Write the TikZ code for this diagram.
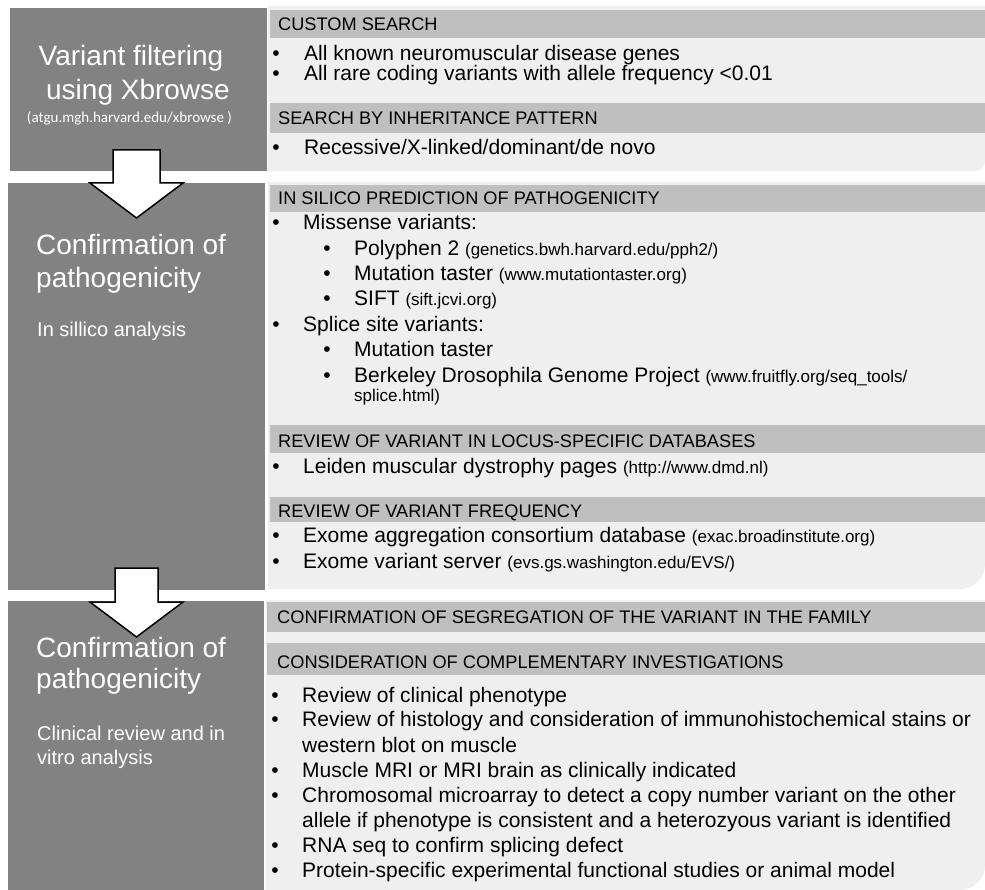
\documentclass[tikz,border=0pt]{standalone}
\usepackage{fontspec}
\setmainfont{Liberation Sans}
\newfontfamily\carlitofont{Carlito}
\definecolor{darkbox}{HTML}{828282}
\definecolor{panel}{HTML}{EFEFEF}
\definecolor{hdr}{HTML}{BFBFBF}
\newcommand\urltxt[1]{{\fontsize{17}{20}\selectfont #1}}
\begin{document}
\begin{tikzpicture}[x=1pt,y=-1pt,
 hd/.style={font=\fontsize{18.2}{21}\selectfont, anchor=base west, inner sep=0pt},
 bt/.style={font=\fontsize{21}{24}\selectfont, anchor=base west, inner sep=0pt},
 bul/.style={font=\fontsize{21}{24}\selectfont, anchor=base, inner sep=0pt},
 ttl/.style={font=\fontsize{28}{32}\selectfont, text=white, inner sep=0pt},
 subt/.style={font=\fontsize{20}{24}\selectfont, text=white, anchor=base west, inner sep=0pt},
 hdrbar/.style={fill=hdr},
 arrowshape/.style={fill=white, draw=black, line width=1.5pt, line join=miter}]
\useasboundingbox (0,0) rectangle (985,890);
\fill[white] (0,0) rectangle (985,890);
% dark boxes
\fill[darkbox] (10,8) rectangle (267,171);
\fill[darkbox] (8,183) rectangle (265,590);
\fill[darkbox] (8,601) rectangle (264,890);
% light panels
\fill[panel] (268,6) -- (985,6) -- (985,161) arc[start angle=0,end angle=90,radius=10] -- (268,171) -- cycle;
\fill[panel] (268,182) -- (985,182) -- (985,564) arc[start angle=0,end angle=90,radius=25] -- (268,589) -- cycle;
\fill[panel] (266,600) -- (985,600) -- (985,865) arc[start angle=0,end angle=90,radius=25] -- (266,890) -- cycle;
% header bars
\fill[hdrbar] (270,10) rectangle (985,38);
\fill[hdrbar] (270,103) rectangle (985,133);
\fill[hdrbar] (270,185) rectangle (985,212);
\fill[hdrbar] (270,425) rectangle (985,453);
\fill[hdrbar] (270,497) rectangle (985,522);
\fill[hdrbar] (267,602) rectangle (985,632);
\fill[hdrbar] (267,643) rectangle (985,675);
% left titles
\node[ttl, anchor=base] (t1a) at (131,66) {Variant filtering};
\node[ttl, anchor=base] (t1b) at (138,100) {using Xbrowse};
\node[font=\carlitofont\fontsize{15}{18}\selectfont, text=white, anchor=base, inner sep=0pt] (t1c) at (129.5,123) {(atgu.mgh.harvard.edu/xbrowse )};
\node[ttl, anchor=base west] (t2a) at (36,255) {Confirmation of};
\node[ttl, anchor=base west] (t2b) at (36,288) {pathogenicity};
\node[subt] (t2c) at (37,337) {In sillico analysis};
\node[ttl, anchor=base west] (t3a) at (36,657) {Confirmation of};
\node[ttl, anchor=base west] (t3b) at (36,688) {pathogenicity};
\node[subt] (t3c) at (37,740) {Clinical review and in};
\node[subt] (t3d) at (37,764) {vitro analysis};
% panel 1
\node[hd] (h1) at (278,31) {CUSTOM SEARCH};
\node[bul] (b1) at (276,61) {•};
\node[bt] (l1) at (304,61) {All known neuromuscular disease genes};
\node[bul] (b2) at (276,81) {•};
\node[bt] (l2) at (304,81) {All rare coding variants with allele frequency <0.01};
\node[hd] (h2) at (278,125) {SEARCH BY INHERITANCE PATTERN};
\node[bul] (b3) at (276,155) {•};
\node[bt] (l3) at (304,155) {Recessive/X-linked/dominant/de novo};
% panel 2
\node[hd] (h3) at (278,205) {IN SILICO PREDICTION OF PATHOGENICITY};
\node[bul] (b4) at (276,230) {•};
\node[bt] (l4) at (303,230) {Missense variants:};
\node[bul] (b5) at (327,256) {•};
\node[bt] (l5) at (354,256) {Polyphen 2 \urltxt{(genetics.bwh.harvard.edu/pph2/)}};
\node[bul] (b6) at (327,281) {•};
\node[bt] (l6) at (354,281) {Mutation taster \urltxt{(www.mutationtaster.org)}};
\node[bul] (b7) at (327,306) {•};
\node[bt] (l7) at (354,306) {SIFT \urltxt{(sift.jcvi.org)}};
\node[bul] (b8) at (276,332) {•};
\node[bt] (l8) at (303,332) {Splice site variants:};
\node[bul] (b9) at (327,357) {•};
\node[bt] (l9) at (354,357) {Mutation taster};
\node[bul] (b10) at (327,382) {•};
\node[bt] (l10) at (354,382) {Berkeley Drosophila Genome Project \urltxt{(www.fruitfly.org/seq\_tools/}};
\node[bt] (l10b) at (354,402) {\urltxt{splice.html)}};
\node[hd] (h4) at (278,447) {REVIEW OF VARIANT IN LOCUS-SPECIFIC DATABASES};
\node[bul] (b11) at (276,473) {•};
\node[bt] (l11) at (303,473) {Leiden muscular dystrophy pages \urltxt{(http://www.dmd.nl)}};
\node[hd] (h5) at (278,517) {REVIEW OF VARIANT FREQUENCY};
\node[bul] (b12) at (276,542) {•};
\node[bt] (l12) at (303,542) {Exome aggregation consortium database \urltxt{(exac.broadinstitute.org)}};
\node[bul] (b13) at (276,568) {•};
\node[bt] (l13) at (303,568) {Exome variant server \urltxt{(evs.gs.washington.edu/EVS/)}};
% panel 3
\node[hd] (h6) at (277,623) {CONFIRMATION OF SEGREGATION OF THE VARIANT IN THE FAMILY};
\node[hd] (h7) at (277,668) {CONSIDERATION OF COMPLEMENTARY INVESTIGATIONS};
\node[bul] (c1) at (275,702) {•};
\node[bt] (m1) at (302,702) {Review of clinical phenotype};
\node[bul] (c2) at (275,726) {•};
\node[bt] (m2) at (302,726) {Review of histology and consideration of immunohistochemical stains or};
\node[bt] (m2b) at (302,752) {western blot on muscle};
\node[bul] (c3) at (275,777) {•};
\node[bt] (m3) at (302,777) {Muscle MRI or MRI brain as clinically indicated};
\node[bul] (c4) at (275,802) {•};
\node[bt] (m4) at (302,802) {Chromosomal microarray to detect a copy number variant on the other};
\node[bt] (m4b) at (302,827) {allele if phenotype is consistent and a heterozyous variant is identified};
\node[bul] (c5) at (275,852) {•};
\node[bt] (m5) at (302,852) {RNA seq to confirm splicing defect};
\node[bul] (c6) at (275,877) {•};
\node[bt] (m6) at (302,877) {Protein-specific experimental functional studies or animal model};
% block arrows
\draw[arrowshape] (113,150) -- (160,150) -- (160,183) -- (183,183) -- (136.5,218) -- (90,183) -- (113,183) -- cycle;
\draw[arrowshape] (115,568) -- (158,568) -- (158,602) -- (183,602) -- (136.5,637) -- (90,602) -- (115,602) -- cycle;
\end{tikzpicture}
\end{document}
